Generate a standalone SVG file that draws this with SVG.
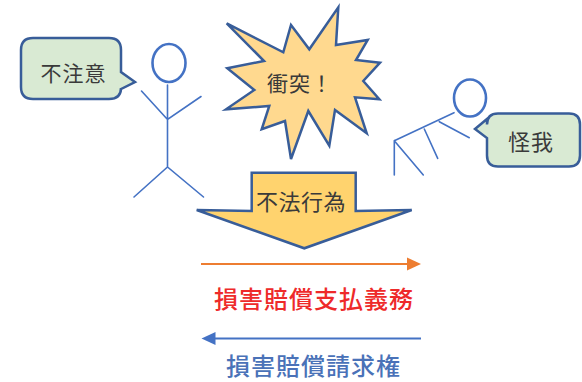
<svg xmlns="http://www.w3.org/2000/svg" width="582" height="382" viewBox="0 0 582 382">
  <style>
    .jp { font-family: "Noto Sans CJK JP", "Noto Sans CJK SC", sans-serif; }
    .bubble-text { font-size: 21px; fill: #3A3A3A; text-anchor: middle; letter-spacing: 1px; }
    .figure { fill: none; stroke: #4472C4; stroke-width: 1.6; stroke-linecap: round; }
    .head { fill: none; stroke: #4472C4; stroke-width: 2.6; }
    .shape { stroke: #385D99; stroke-width: 2.5; stroke-linejoin: miter; }
    .label { font-size: 24px; font-weight: 500; text-anchor: middle; letter-spacing: 1px; }
  </style>
  <rect width="582" height="382" fill="#FFFFFF"/>

  <!-- speech bubble: 不注意 -->
  <g id="bubble-left">
    <path class="shape" fill="#D9EAD3" stroke="#3B5586" d="M33,38 H109 Q121,38 121,50 V72 L135,82 L121,89 V88 Q121,99 109,99 H33 Q21,99 21,87 V50 Q21,38 33,38 Z"/>
    <text class="jp bubble-text" x="73.5" y="80.5">不注意</text>
  </g>

  <!-- speech bubble: 怪我 -->
  <g id="bubble-right">
    <path class="shape" fill="#D9EAD3" stroke="#222222" d="M498,113.5 H569 Q580,113.5 580,124.5 V155.5 Q580,166.5 569,166.5 H498 Q487,166.5 487,155.5 V138 L475,129 L487,119 V124.5 Q487,113.5 498,113.5 Z"/>
    <text class="jp bubble-text" x="531" y="150" style="font-size:22px">怪我</text>
  </g>

  <!-- standing person -->
  <g id="person-left">
    <ellipse class="head" cx="169" cy="63" rx="16.5" ry="19"/>
    <path class="figure" d="M167.5,85 V167 M141.5,91 L167.5,119.5 L201,96.5 M134,197 L167.5,167 L203.5,197"/>
  </g>

  <!-- falling person -->
  <g id="person-right">
    <ellipse class="head" cx="470" cy="98" rx="16" ry="18.5"/>
    <path class="figure" d="M454,112.7 L394.3,140.7 M394.3,140.7 V175 M394.3,140.7 L423.3,175 M439.3,121.7 L469.3,137.7 M424.3,129 L437.7,158.3"/>
  </g>

  <!-- collision burst -->
  <g id="burst">
    <polygon class="shape" fill="#FFD98F" points="226.7,23.3 283.3,52.3 291,25 309.3,49.3 338.3,7.3 336,45 367.7,40 356,60 380,62.7 363.3,81 379.3,99.3 355,97.3 366.7,133.3 335,110 329.3,145.7 308.3,111 291,159 285,121 261.7,129.3 269.3,106 226,109.3 254.3,90 227.3,68.3 264,61"/>
    <text class="jp bubble-text" x="300" y="91">衝突！</text>
  </g>

  <!-- unlawful act block arrow -->
  <g id="unlawful-act">
    <polygon class="shape" fill="#FFD36E" points="251.7,172.7 355.7,172.7 355.7,211 411.7,210 304.3,248.3 196.7,210 251.7,211"/>
    <text class="jp bubble-text" x="301" y="209.5" style="font-size:22px;letter-spacing:0.5px">不法行為</text>
  </g>

  <!-- obligation / claim connectors -->
  <g id="connectors">
    <line x1="201" y1="264" x2="408" y2="264" stroke="#ED7D31" stroke-width="2"/>
    <polygon points="421,264 407,257.5 407,270.5" fill="#ED7D31"/>
    <line x1="215" y1="338.5" x2="421" y2="338.5" stroke="#4472C4" stroke-width="2"/>
    <polygon points="201.5,338.5 215.5,332 215.5,345" fill="#4472C4"/>
  </g>

  <g id="labels">
    <text class="jp label" x="314" y="308" fill="#EE2A2A">損害賠償支払義務</text>
    <text class="jp label" x="313.5" y="375" fill="#4A72B8">損害賠償請求権</text>
  </g>
</svg>
